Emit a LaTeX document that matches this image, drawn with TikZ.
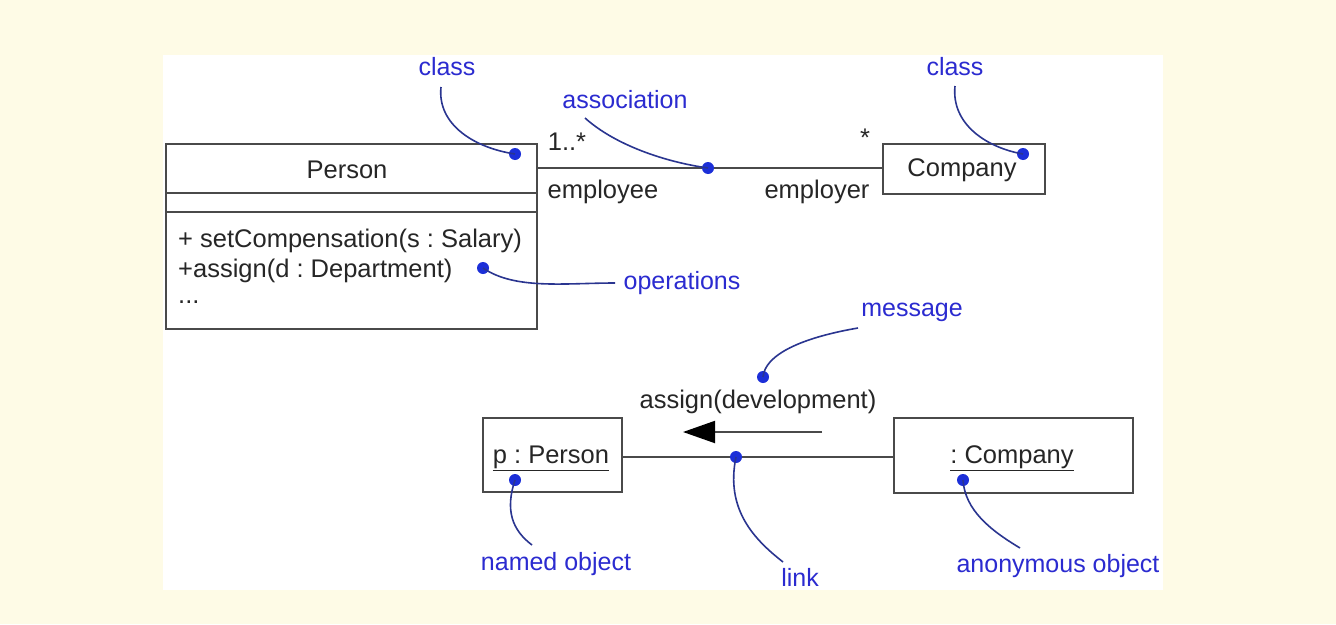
\documentclass[tikz,border=0pt]{standalone}
\usepackage{fontspec}
\setmainfont{Liberation Sans}
\usetikzlibrary{arrows.meta}
\frenchspacing
\definecolor{cream}{HTML}{FEFBE6}
\definecolor{lblue}{HTML}{2B2BD0}
\definecolor{dblue}{HTML}{1C2FD8}
\definecolor{lead}{HTML}{2A3590}
\definecolor{edge}{HTML}{4A4A4A}
\tikzset{
  txt/.style={font=\fontsize{25.5}{29}\selectfont, text=black!85, inner sep=0pt},
  lbl/.style={font=\fontsize{25}{29}\selectfont, text=lblue, inner sep=0pt},
  umlbox/.style={draw=edge, line width=2pt, fill=white, inner sep=0pt, anchor=north west},
  conn/.style={draw=edge, line width=2pt},
  leadline/.style={draw=lead, line width=1.6pt},
  dotn/.style={circle, fill=dblue, inner sep=0pt, minimum size=12pt},
}
\begin{document}
\begin{tikzpicture}[x=1pt,y=-1pt]
\fill[cream] (0,0) rectangle (1336,624);
\useasboundingbox (0,0) rectangle (1336,624);
\fill[white] (163,55) rectangle (1163,590);

% Person class
\node[umlbox, minimum width=371pt, minimum height=185pt] (person) at (165,143) {};
\draw[conn] (165,193) -- (536,193);
\draw[conn] (165,212) -- (536,212);
\node[txt] (pname) at (347,170) {Person};
\node[txt, anchor=west] (op1) at (178,241) {+ setCompensation(s : Salary)};
\node[txt, anchor=west] (op2) at (178,271) {+assign(d : Department)};
\node[txt, anchor=west] (op3) at (178,302) {...};

% Company class
\node[umlbox, minimum width=162pt, minimum height=50pt] (company) at (882,143) {};
\node[txt] (cname) at (962,170) {Company};

% association
\draw[conn] (person.east |- 0,168) -- (company.west |- 0,168);
\node[txt] (m1) at (567,142) {1..*};
\node[txt] (m2) at (865,138) {*};
\node[txt] (r1) at (603,192) {employee};
\node[txt] (r2) at (817,192) {employer};

% objects
\node[umlbox, minimum width=139pt, minimum height=74pt] (pobj) at (482,417) {};
\node[txt] (ptext) at (551,458) {\underline{p : Person}};
\node[umlbox, minimum width=239pt, minimum height=75pt] (cobj) at (893,417) {};
\node[txt] (ctext) at (1012,458) {\underline{: Company}};
\draw[conn] (pobj.east |- 0,457) -- (cobj.west |- 0,457);

% message
\node[txt] (msg) at (758,402) {assign(development)};
\coordinate (ms) at (822,432);
\coordinate (me) at (683,432);
\draw[conn, -{Triangle[length=32pt,width=22pt,color=black,fill=black]}] (ms) -- (me);

% annotation labels
\node[lbl] (lclass1) at (447,67) {class};
\node[lbl] (lassoc) at (625,100) {association};
\node[lbl] (lclass2) at (955,67) {class};
\node[lbl] (lops) at (682,283) {operations};
\node[lbl] (lmsg) at (912,312) {message};
\node[lbl] (lnamed) at (556,564) {named object};
\node[lbl] (llink) at (800,577) {link};
\node[lbl] (lanon) at (1058,566) {anonymous object};

% dots
\node[dotn] (d1) at (515,154) {};
\node[dotn] (d2) at (708,168) {};
\node[dotn] (d3) at (1023,154) {};
\node[dotn] (d4) at (483,268) {};
\node[dotn] (d5) at (763,377) {};
\node[dotn] (d6) at (736,457) {};
\node[dotn] (d7) at (515,480) {};
\node[dotn] (d8) at (963,480) {};

% leader curves
\coordinate (s1) at (441,87);
\coordinate (s2) at (585,118);
\coordinate (s3) at (955,86);
\coordinate (s4) at (615,283);
\coordinate (s5) at (858,328);
\coordinate (s6) at (783,562);
\coordinate (s7) at (532,545);
\coordinate (s8) at (1020,548);
\draw[leadline] (s1) .. controls (437,125) and (475,148) .. (d1.center);
\draw[leadline] (s2) .. controls (615,145) and (665,162) .. (d2.center);
\draw[leadline] (s3) .. controls (951,125) and (988,148) .. (d3.center);
\draw[leadline] (d4.center) .. controls (515,290) and (565,283) .. (s4);
\draw[leadline] (s5) .. controls (800,338) and (765,355) .. (d5.center);
\draw[leadline] (d6.center) .. controls (725,510) and (755,540) .. (s6);
\draw[leadline] (d7.center) .. controls (505,510) and (512,530) .. (s7);
\draw[leadline] (d8.center) .. controls (965,510) and (990,530) .. (s8);
\end{tikzpicture}
\end{document}
